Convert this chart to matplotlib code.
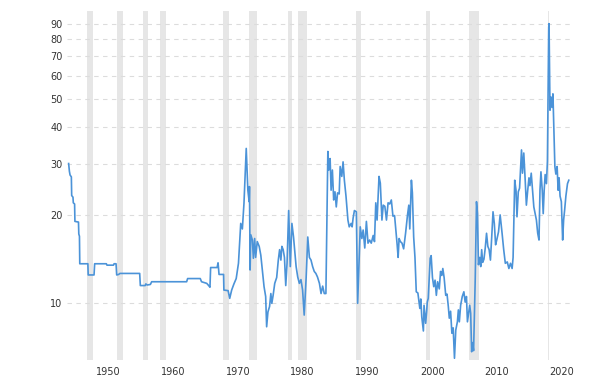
import matplotlib.pyplot as plt
import matplotlib.transforms as mtransforms

# Series (decimal year, value)
years = [
    1946.08, 1946.2, 1946.3, 1946.5, 1946.55, 1946.75, 1946.8, 1947.0, 1947.05, 1947.6,
    1947.65, 1947.75, 1947.8, 1949.05, 1949.1, 1950.0, 1950.1, 1951.9, 1952.0, 1953.0,
    1953.1, 1953.4, 1953.5, 1953.8, 1954.0, 1957.05, 1957.15, 1957.9, 1958.0, 1958.2,
    1958.7, 1958.9, 1964.3, 1964.45, 1966.4, 1966.6, 1967.4, 1967.7, 1967.9, 1968.0,
    1969.0, 1969.15, 1969.3, 1970.0, 1970.05, 1970.7, 1970.95, 1971.25, 1971.6, 1971.95,
    1972.3, 1972.65, 1972.9, 1973.15, 1973.5, 1973.75, 1973.95, 1974.0, 1974.1, 1974.2,
    1974.45, 1974.6, 1974.8, 1974.95, 1975.2, 1975.5, 1975.75, 1976.0, 1976.25, 1976.5,
    1976.65, 1976.85, 1977.1, 1977.3, 1977.45, 1977.65, 1977.9, 1978.2, 1978.45, 1978.65,
    1978.85, 1979.0, 1979.2, 1979.4, 1979.6, 1979.8, 1980.05, 1980.3, 1980.55, 1980.8,
    1981.2, 1981.45, 1981.7, 1981.95, 1982.2, 1982.45, 1982.75, 1983.0, 1983.25, 1983.5,
    1983.75, 1984.0, 1984.25, 1984.5, 1984.8, 1985.05, 1985.3, 1985.55, 1985.8, 1986.1,
    1986.25, 1986.45, 1986.6, 1986.8, 1987.0, 1987.2, 1987.4, 1987.6, 1987.85, 1988.0,
    1988.25, 1988.45, 1988.65, 1988.9, 1989.2, 1989.4, 1989.7, 1989.85, 1990.0, 1990.2,
    1990.5, 1990.7, 1990.9, 1991.1, 1991.35, 1991.55, 1991.8, 1992.05, 1992.3, 1992.55,
    1992.8, 1993.1, 1993.3, 1993.5, 1993.7, 1994.0, 1994.2, 1994.45, 1994.65, 1994.9,
    1995.15, 1995.4, 1995.65, 1995.9, 1996.15, 1996.4, 1996.6, 1996.8, 1996.95, 1997.1,
    1997.3, 1997.55, 1997.8, 1998.1, 1998.4, 1998.6, 1998.75, 1999.0, 1999.15, 1999.35,
    1999.55, 1999.75, 2000.0, 2000.3, 2000.45, 2000.6, 2000.85, 2000.95, 2001.2, 2001.35,
    2001.45, 2001.6, 2001.9, 2002.05, 2002.25, 2002.45, 2002.65, 2002.85, 2003.05, 2003.3,
    2003.5, 2003.7, 2003.85, 2004.05, 2004.3, 2004.5, 2004.7, 2004.85, 2005.05, 2005.25,
    2005.45, 2005.65, 2005.85, 2006.1, 2006.25, 2006.4, 2006.6, 2006.85, 2007.1, 2007.3,
    2007.5, 2007.65, 2007.85, 2008.0, 2008.15, 2008.3, 2008.45, 2008.6, 2008.85, 2009.05,
    2009.2, 2009.35, 2009.55, 2009.7, 2009.85, 2010.0, 2010.2, 2010.4, 2010.6, 2010.8,
    2011.0, 2011.2, 2011.4, 2011.6, 2011.8, 2012.0, 2012.2, 2012.45, 2012.7, 2013.0,
    2013.25, 2013.5, 2013.8, 2014.05, 2014.3, 2014.55, 2014.7, 2014.95, 2015.15, 2015.3,
    2015.5, 2015.7, 2015.85, 2016.0, 2016.15, 2016.35, 2016.55, 2016.75, 2016.95, 2017.15,
    2017.3, 2017.5, 2017.7, 2017.9, 2018.1, 2018.3, 2018.5, 2018.7, 2018.85, 2019.0,
    2019.2, 2019.35, 2019.5, 2019.65, 2019.85, 2020.0, 2020.2, 2020.25, 2020.4, 2020.55,
    2020.7, 2020.85, 2021.0, 2021.15, 2021.3, 2021.5, 2021.65, 2021.8, 2021.95, 2022.15,
    2022.35, 2022.5, 2022.65, 2022.85, 2023.1, 2023.3,
]
values = [
    30.0, 28.2, 27.4, 27.0, 23.3, 23.0, 22.0, 21.8, 19.0, 18.9,
    17.2, 16.9, 13.6, 13.6, 12.45, 12.45, 13.6, 13.6, 13.45, 13.45,
    13.6, 13.6, 12.45, 12.5, 12.6, 12.6, 11.45, 11.45, 11.6, 11.5,
    11.55, 11.8, 11.8, 12.1, 12.1, 11.8, 11.65, 11.45, 11.3, 13.2,
    13.2, 13.7, 12.5, 12.5, 11.05, 11.0, 10.35, 11.05, 11.6, 12.1,
    13.65, 18.7, 17.9, 21.9, 33.8, 24.3, 22.2, 25.0, 12.95, 17.1,
    16.4, 14.2, 16.6, 14.3, 16.2, 15.6, 14.55, 12.8, 11.35, 10.5,
    8.27, 9.3, 9.7, 10.75, 9.95, 10.6, 11.65, 12.2, 14.0, 15.2,
    14.0, 15.6, 15.2, 14.3, 11.45, 13.65, 20.7, 13.3, 18.7, 16.8,
    13.3, 12.25, 11.65, 12.0, 11.05, 9.07, 12.2, 16.8, 14.3, 14.0,
    13.3, 12.8, 12.6, 12.25, 11.65, 10.75, 11.4, 10.75, 10.75, 33.0,
    28.5, 31.2, 24.3, 28.5, 22.5, 24.0, 21.3, 23.8, 23.6, 29.3,
    27.1, 30.4, 26.3, 23.2, 19.2, 18.2, 18.7, 18.2, 19.5, 20.7,
    20.5, 9.95, 13.3, 18.2, 16.6, 17.75, 15.4, 19.0, 16.0, 16.4,
    16.0, 17.0, 16.2, 22.0, 19.2, 27.1, 25.7, 19.2, 21.6, 21.4,
    19.2, 22.0, 21.8, 22.5, 19.8, 19.9, 17.75, 15.8, 14.3, 16.6,
    16.2, 16.0, 15.3, 17.3, 20.0, 21.6, 17.9, 26.3, 23.8, 16.8,
    14.3, 10.9, 10.8, 9.56, 10.3, 8.95, 8.0, 9.8, 8.5, 9.3,
    10.05, 10.35, 14.2, 14.5, 12.2, 11.35, 11.95, 10.6, 11.8, 11.15,
    12.8, 12.4, 13.1, 12.2, 10.6, 10.7, 9.7, 8.85, 9.35, 7.86,
    8.2, 6.45, 8.06, 8.6, 9.45, 8.6, 9.8, 10.5, 10.9, 10.05,
    10.5, 8.6, 9.3, 9.8, 9.2, 6.79, 7.3, 6.85, 11.95, 22.2,
    20.2, 13.5, 14.3, 13.3, 15.2, 13.75, 14.1, 15.4, 17.3, 15.6,
    15.2, 14.0, 16.8, 20.5, 18.7, 15.8, 16.5, 17.5, 20.0, 17.3,
    15.2, 13.65, 13.8, 13.1, 13.65, 13.1, 14.3, 26.3, 24.3, 19.7,
    24.0, 24.7, 28.5, 33.4, 27.8, 32.6, 26.8, 21.6, 24.2, 26.8,
    25.2, 27.8, 24.2, 21.3, 20.2, 19.2, 17.3, 16.4, 24.3, 28.1,
    24.3, 20.2, 24.3, 27.5, 25.6, 30.6, 88.0, 90.5, 45.7, 50.7,
    46.7, 52.0, 39.0, 29.3, 27.6, 29.3, 24.3, 26.8, 23.2, 22.2,
    16.4, 19.2, 20.7, 23.2, 25.6, 26.3,
]

# Recession periods (shaded bars)
rec_start = [1948.85, 1953.5, 1957.6, 1960.25, 1969.9, 1973.85, 1980.0, 1981.5, 1990.5, 2001.2, 2007.9, 2020.1]
rec_end = [1949.8, 1954.4, 1958.3, 1961.1, 1970.85, 1975.2, 1980.55, 1982.9, 1991.2, 2001.85, 2009.45, 2020.3]

y_ticks = [10, 20, 30, 40, 50, 60, 70, 80, 90]
x_ticks = [1950, 1960, 1970, 1980, 1990, 2000, 2010, 2020]

fig = plt.figure(figsize=(6.02, 3.79), dpi=100)
ax = fig.add_axes([0.111, 0.050, 0.836, 0.921])

# Recession bars behind everything
for a, b in zip(rec_start, rec_end):
    ax.axvspan(a, b, color='#e6e6e6', lw=0, zorder=0)

# Dashed horizontal grid
for t in y_ticks:
    ax.axhline(t, color='#dcdcdc', lw=0.8, dashes=(4, 4), zorder=1)

ax.plot(years, values, color='#4b93d8', lw=1.2, zorder=3)

ax.set_yscale('log')
ax.set_ylim(6.36, 100)
ax.set_xlim(1945.8, 2023.5)
ax.set_yticks(y_ticks, labels=[str(t) for t in y_ticks])
ax.yaxis.set_minor_locator(plt.NullLocator())
ax.set_xticks(x_ticks, labels=[str(t) for t in x_ticks])

ax.tick_params(axis='both', length=0, labelsize=7, colors='#333333')
ax.tick_params(axis='y', pad=3)
ax.tick_params(axis='x', pad=5)

# x labels start at the tick (left aligned)
offset = mtransforms.ScaledTranslation(2 / 100, 0, fig.dpi_scale_trans)
for lab in ax.get_xticklabels():
    lab.set_horizontalalignment('left')
    lab.set_transform(lab.get_transform() + offset)

for s in ax.spines.values():
    s.set_visible(False)

fig.savefig('out.png', dpi=100)
